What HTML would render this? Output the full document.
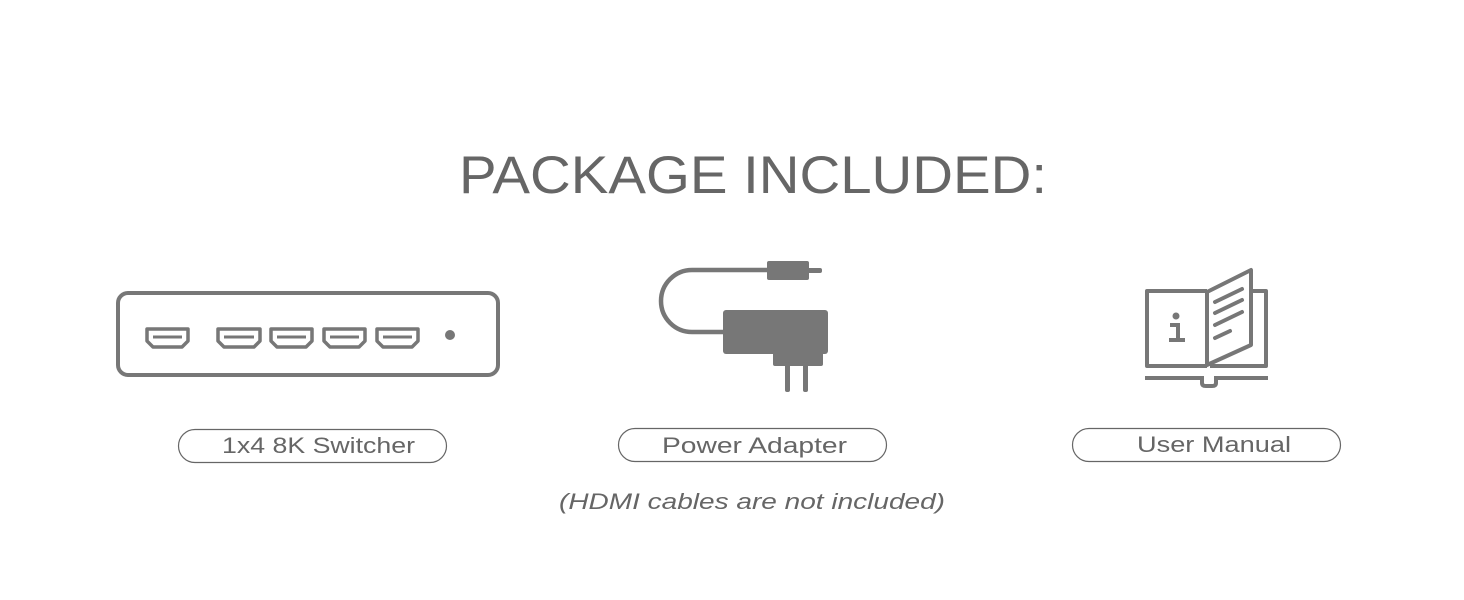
<!DOCTYPE html>
<html><head><meta charset="utf-8"><style>
html,body{margin:0;padding:0;background:#fff;}
svg{display:block;}
text{font-family:"Liberation Sans",sans-serif;fill:#666;}
</style></head><body>
<svg width="1464" height="600" viewBox="0 0 1464 600" xmlns="http://www.w3.org/2000/svg">
<rect width="1464" height="600" fill="#fff"/>
<text x="459" y="193" font-size="53" textLength="588" lengthAdjust="spacingAndGlyphs">PACKAGE INCLUDED:</text>

<!-- switcher -->
<rect x="118" y="293" width="380" height="82" rx="10" fill="none" stroke="#777" stroke-width="4"/>
<g fill="none" stroke="#777" stroke-width="3.5" stroke-linejoin="round">
<path d="M147 329 H188 V341 L182 347 H153 L147 341 Z"/>
<path d="M218 329 H260 V341 L254 347 H224 L218 341 Z"/>
<path d="M271 329 H312 V341 L306 347 H277 L271 341 Z"/>
<path d="M324 329 H365 V341 L359 347 H330 L324 341 Z"/>
<path d="M377 329 H418 V341 L412 347 H383 L377 341 Z"/>
</g>
<g stroke="#777" stroke-width="3">
<line x1="153" y1="337" x2="182" y2="337"/>
<line x1="224" y1="337" x2="254" y2="337"/>
<line x1="277" y1="337" x2="306" y2="337"/>
<line x1="330" y1="337" x2="359" y2="337"/>
<line x1="383" y1="337" x2="412" y2="337"/>
</g>
<circle cx="450" cy="335" r="5" fill="#777"/>

<!-- power adapter -->
<g fill="#777">
<rect x="767" y="261" width="42" height="19" rx="2"/>
<rect x="807" y="268" width="15" height="5" rx="2"/>
<rect x="723" y="310" width="105" height="44" rx="3"/>
<rect x="773" y="350" width="50" height="16" rx="2"/>
<rect x="785" y="362" width="5" height="30" rx="2"/>
<rect x="803" y="362" width="5" height="30" rx="2"/>
</g>
<path d="M768 270 H692 A31 31 0 0 0 692 332 H725" fill="none" stroke="#777" stroke-width="4.5"/>

<!-- book -->
<g fill="none" stroke="#777" stroke-width="4" stroke-linejoin="round">
<path d="M1207 291 H1147 V366 H1207"/>
<path d="M1253 291 H1266 V366 H1210"/>
<path d="M1207 292 L1251 270 V345 L1207 365 Z"/>
</g>
<g stroke="#777" stroke-width="4" stroke-linecap="round">
<line x1="1215" y1="302" x2="1242" y2="289"/>
<line x1="1215" y1="313" x2="1242" y2="300"/>
<line x1="1215" y1="325" x2="1242" y2="312"/>
<line x1="1215" y1="338" x2="1230" y2="331"/>
</g>
<path d="M1145 378 H1202 V383 Q1202 386 1206 386 H1212 Q1216 386 1216 383 V378 H1268" fill="none" stroke="#777" stroke-width="4"/>
<circle cx="1176" cy="316" r="3.5" fill="#777"/>
<path d="M1170 325 H1178 V339 M1169 340 H1185" fill="none" stroke="#777" stroke-width="4"/>

<!-- labels -->
<g fill="none" stroke="#666" stroke-width="1.2">
<rect x="178.5" y="429.5" width="268" height="33" rx="16.5"/>
<rect x="618.5" y="428.5" width="268" height="33" rx="16.5"/>
<rect x="1072.5" y="428.5" width="268" height="33" rx="16.5"/>
</g>
<text x="222" y="453" font-size="22" textLength="193" lengthAdjust="spacingAndGlyphs">1x4 8K Switcher</text>
<text x="662" y="453" font-size="22" textLength="185" lengthAdjust="spacingAndGlyphs">Power Adapter</text>
<text x="1137" y="452" font-size="22" textLength="154" lengthAdjust="spacingAndGlyphs">User Manual</text>
<text x="559" y="509" font-size="22" font-style="italic" textLength="386" lengthAdjust="spacingAndGlyphs">(HDMI cables are not included)</text>
</svg>
</body></html>
